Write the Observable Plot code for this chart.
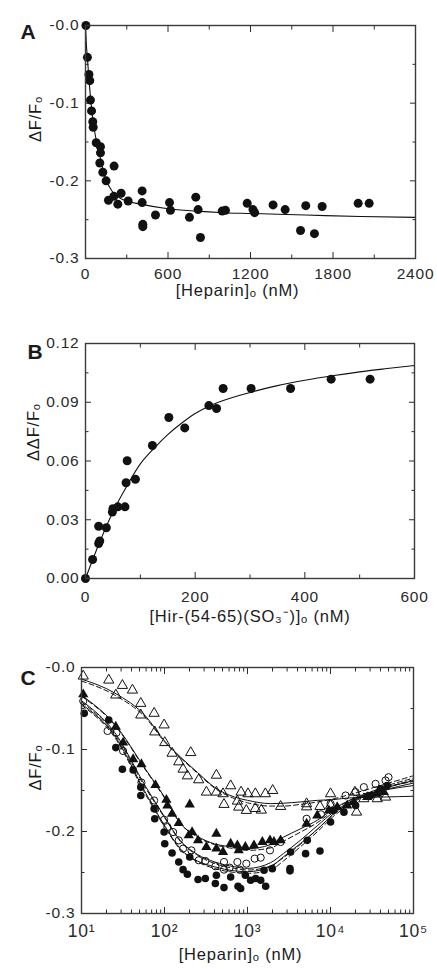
<!DOCTYPE html>
<html>
<head>
<meta charset="utf-8">
<script src="https://cdn.jsdelivr.net/npm/d3@7"></script>
<script src="https://cdn.jsdelivr.net/npm/@observablehq/plot@0.6"></script>
<style>
  html, body { margin: 0; padding: 0; background: #fff; overflow: hidden; }
  #chart { width: 437px; }
  #chart svg { display: block; }
  #chart text { letter-spacing: 0.8px; }
</style>
</head>
<body>
<div id="chart"></div>
<script>
// ---------- Panel A ----------
const aHeparin = [3,14,25,31,36,44,53,56,78,109,109,104,126,150,208,167,206,235,259,310,412,412,417,417,509,611,618,756,802,819,836,994,1018,1176,1218,1230,1364,1452,1564,1602,1665,1721,1983,2063];
const aDF = [0,-0.041,-0.063,-0.071,-0.096,-0.110,-0.124,-0.131,-0.151,-0.156,-0.164,-0.177,-0.189,-0.200,-0.181,-0.225,-0.220,-0.230,-0.216,-0.226,-0.213,-0.228,-0.256,-0.259,-0.244,-0.228,-0.238,-0.247,-0.221,-0.237,-0.273,-0.239,-0.238,-0.229,-0.237,-0.241,-0.231,-0.237,-0.264,-0.232,-0.268,-0.233,-0.229,-0.229];
const aFitX = [0,5,15,25,35,45,55,70,90,110,130,150,175,200,250,300,400,600,800,1000,1200,1600,2000,2400];
const aFitY = [0,-0.02,-0.045,-0.068,-0.09,-0.108,-0.123,-0.14,-0.157,-0.172,-0.187,-0.199,-0.208,-0.215,-0.222,-0.226,-0.23,-0.236,-0.239,-0.241,-0.242,-0.244,-0.246,-0.247];
const aXTicks = [0,600,1200,1800,2400];
const aXLabels = ["0","600","1200","1800","2400"];
const aXMinor = [300,900,1500,2100];
const aYTicks = [0,-0.1,-0.2,-0.3];
const aYMinor = [-0.05,-0.15,-0.25];
const aYLabels = ["-0.0","-0.1","-0.2","-0.3"];

// ---------- Panel B ----------
const bHir = [0,13,24,26,24,38,49,50,59,72,74,76,91,122,152,181,225,239,251,302,374,448,519];
const bDDF = [0,0.0097,0.0179,0.0192,0.0267,0.0259,0.0339,0.0356,0.0366,0.0366,0.0489,0.0601,0.0507,0.0679,0.0822,0.0769,0.0883,0.0868,0.097,0.097,0.097,0.1018,0.1018];
const bFitX = [0,25,50,75,100,125,150,175,200,225,250,300,350,400,450,500,550,600];
const bFitY = [0,0.018,0.034,0.047,0.0585,0.0665,0.0735,0.0793,0.0843,0.088,0.0908,0.095,0.0985,0.1012,0.1035,0.1055,0.1072,0.1088];
const bXTicks = [0,200,400,600];
const bXLabels = ["0","200","400","600"];
const bXMinor = [100,300,500];
const bYTicks = [0,0.03,0.06,0.09,0.12];
const bYMinor = [0.015,0.045,0.075,0.105];
const bYLabels = ["0.00","0.03","0.06","0.09","0.12"];

// ---------- Panel C ----------
const cOpenTriX = [10.5,21.3,31.1,41.1,25.9,51.8,51.8,75,98.9,76.3,100.7,123.4,207,148.5,167.4,188.7,258,422,627,422,320,507,521,755,783,836,1013,968,1243,1243,1468,1641,2011,2506,5152,5152,7464,10020,10020,19680,20610,25230,36560,46030];
const cOpenTriY = [-0.0105,-0.0154,-0.0219,-0.0276,-0.0336,-0.0438,-0.058,-0.0559,-0.0701,-0.0786,-0.0916,-0.1046,-0.1038,-0.1151,-0.124,-0.1322,-0.137,-0.1314,-0.1443,-0.152,-0.152,-0.154,-0.167,-0.163,-0.1703,-0.152,-0.154,-0.1743,-0.154,-0.172,-0.174,-0.154,-0.150,-0.1695,-0.1662,-0.170,-0.1695,-0.154,-0.1682,-0.152,-0.1764,-0.1601,-0.1601,-0.1581];
const cFillTriX = [10.5,25.9,31.7,41.9,52.7,77.8,105.4,108.4,123.4,148.5,201.4,195.9,215,253.6,319.6,421.7,421.7,507,627,755,783,942,1197,1510,1866,2084,2506,5152,6934,9572,12050,15920,19140,27670,36560,43950];
const cFillTriY = [-0.0328,-0.0722,-0.0916,-0.1119,-0.118,-0.1435,-0.1614,-0.1682,-0.1784,-0.1897,-0.167,-0.2047,-0.2007,-0.2108,-0.2189,-0.2027,-0.2209,-0.225,-0.2149,-0.2169,-0.223,-0.2189,-0.2169,-0.2128,-0.2108,-0.2128,-0.2108,-0.1905,-0.1804,-0.1743,-0.1703,-0.1682,-0.1642,-0.1581,-0.154,-0.152];
const cOpenCircX = [10.5,20.6,26.4,31.7,52.7,75,77.8,98.9,108.4,126.8,148.5,167.4,210.9,258.3,310.5,410,521,521,609.5,755,805,968,1219,1442,1866,2506,5152,7670,10020,15200,20050,25230,34910,46030,50000];
const cOpenCircY = [-0.0409,-0.0774,-0.0795,-0.1018,-0.1403,-0.1622,-0.1723,-0.1857,-0.1946,-0.2007,-0.2108,-0.2209,-0.223,-0.2351,-0.2359,-0.2424,-0.2372,-0.2465,-0.2441,-0.2372,-0.2465,-0.2392,-0.2331,-0.2319,-0.223,-0.2128,-0.1845,-0.179,-0.1662,-0.1561,-0.152,-0.1459,-0.1419,-0.1378,-0.1338];
const cFillCircX = [10.8,21.3,25.9,31.1,41.9,51.8,51.8,75,76.3,98.9,100.7,123.4,148.5,167.4,188.7,201.4,253.6,310.5,421.7,410,521,626.9,769,827,942,1091,1253,1442,1656,1581,1991,3250,3250,3311,5012,7464,5248,10020,10790,14520,20050,30340,40090,48200];
const cFillCircY = [-0.0559,-0.0641,-0.0977,-0.124,-0.1249,-0.1459,-0.1561,-0.1723,-0.1845,-0.2007,-0.2149,-0.2262,-0.2372,-0.2465,-0.2522,-0.2311,-0.2586,-0.2574,-0.2534,-0.2635,-0.2684,-0.2554,-0.2668,-0.2696,-0.2534,-0.2595,-0.2574,-0.2595,-0.2668,-0.2473,-0.2453,-0.2453,-0.248,-0.225,-0.227,-0.2238,-0.2108,-0.1885,-0.1743,-0.1764,-0.1682,-0.1561,-0.148,-0.1439];

const cFitX = [10,25,60,100,155,250,400,700,1000,1900,2700,4300,7000,11000,17000,43000,100000];
const cFitOpenTri      = [-0.0142,-0.031,-0.06,-0.0896,-0.109,-0.128,-0.146,-0.158,-0.162,-0.166,-0.1655,-0.164,-0.162,-0.161,-0.159,-0.158,-0.157];
const cFitOpenTriDash  = [-0.0165,-0.0335,-0.062,-0.0905,-0.110,-0.129,-0.147,-0.160,-0.165,-0.169,-0.169,-0.167,-0.164,-0.160,-0.155,-0.143,-0.132];
const cFitFillTri      = [-0.034,-0.069,-0.125,-0.158,-0.19,-0.206,-0.215,-0.219,-0.221,-0.216,-0.207,-0.197,-0.186,-0.172,-0.162,-0.150,-0.144];
const cFitFillTriDash  = [-0.035,-0.07,-0.126,-0.159,-0.19,-0.207,-0.216,-0.221,-0.223,-0.22,-0.212,-0.201,-0.189,-0.174,-0.162,-0.147,-0.139];
const cFitOpenCirc     = [-0.0405,-0.079,-0.146,-0.182,-0.211,-0.228,-0.237,-0.243,-0.245,-0.238,-0.227,-0.211,-0.1926,-0.176,-0.164,-0.148,-0.138];
const cFitOpenCircDash = [-0.042,-0.081,-0.148,-0.183,-0.212,-0.229,-0.239,-0.245,-0.247,-0.242,-0.232,-0.216,-0.197,-0.179,-0.165,-0.146,-0.135];
const cFitFillCirc     = [-0.0446,-0.083,-0.154,-0.1926,-0.221,-0.236,-0.243,-0.248,-0.249,-0.243,-0.231,-0.215,-0.197,-0.178,-0.165,-0.150,-0.141];
const cFitFillCircDash = [-0.046,-0.085,-0.156,-0.194,-0.222,-0.237,-0.245,-0.25,-0.251,-0.247,-0.236,-0.219,-0.2,-0.181,-0.167,-0.148,-0.137];
const cXTicks = [10,100,1000,10000,100000];
const cXLabels = ["10¹","10²","10³","10⁴","10⁵"];
const cXMinor = [10,100,1000,10000].flatMap(d => [2,3,4,5,6,7,8,9].map(k => k * d));
const cYTicks = [0,-0.1,-0.2,-0.3];
const cYMinor = [-0.05,-0.15,-0.25];
const cYLabels = ["-0.0","-0.1","-0.2","-0.3"];

// ---------- helpers ----------
const FONT = "'Liberation Sans', Arial, Helvetica, sans-serif";
const INK = "#1a1a1a";
const TICK_FS = 15.5;
const pairs = (xs, ys) => xs.map((x, i) => ({x, y: ys[i]}));
const blank = () => "";
const lookup = (ticks, labs, log) => d => {
  let best = 0, bd = Infinity;
  ticks.forEach((t, i) => {
    const dist = log ? Math.abs(Math.log10(t) - Math.log10(d)) : Math.abs(t - d);
    if (dist < bd) { bd = dist; best = i; }
  });
  return labs[best];
};

function boxAxes({xTicks, xMinor, yTicks, yMinor, xLabels, yLabels, xPad, yPad, xLog, xFs = TICK_FS}) {
  const common = {color: "#2a2a2a", label: null, strokeWidth: 1, fontSize: TICK_FS};
  return [
    Plot.axisX({anchor: "bottom", ticks: xTicks, tickSize: -6, tickPadding: xPad, tickFormat: lookup(xTicks, xLabels, xLog), ...common, fontSize: xFs}),
    Plot.axisX({anchor: "top", ticks: xTicks, tickSize: -6, tickFormat: blank, ...common}),
    Plot.axisX({anchor: "bottom", ticks: xMinor, tickSize: -3.5, tickFormat: blank, ...common}),
    Plot.axisX({anchor: "top", ticks: xMinor, tickSize: -3.5, tickFormat: blank, ...common}),
    Plot.axisY({anchor: "left", ticks: yTicks, tickSize: -6, tickPadding: yPad, tickFormat: lookup(yTicks, yLabels, false), ...common}),
    Plot.axisY({anchor: "right", ticks: yTicks, tickSize: -6, tickFormat: blank, ...common}),
    Plot.axisY({anchor: "left", ticks: yMinor, tickSize: -3.5, tickFormat: blank, ...common}),
    Plot.axisY({anchor: "right", ticks: yMinor, tickSize: -3.5, tickFormat: blank, ...common})
  ];
}

function labels({letter, letterDx, letterDy, xLabel, xDx, xDy, yLabel, yDx}) {
  return [
    Plot.text([letter], {text: d => d, frameAnchor: "top-left", dx: letterDx, dy: letterDy, fontSize: 21, fontWeight: "bold", fill: INK}),
    Plot.text([xLabel], {text: d => d, frameAnchor: "bottom", dx: xDx, dy: xDy, fontSize: 16.5, fill: INK}),
    Plot.text([yLabel], {text: d => d, frameAnchor: "left", dx: yDx, rotate: -90, fontSize: 16.5, fill: INK})
  ];
}

const style = {fontFamily: FONT, fontSize: TICK_FS + "px", color: INK, background: "white", overflow: "visible"};

// ---------- Panel A ----------
const chartA = Plot.plot({
  width: 437, height: 310,
  marginTop: 25, marginBottom: 52, marginLeft: 85, marginRight: 22,
  style,
  x: {type: "linear", domain: [0, 2400]},
  y: {type: "linear", domain: [-0.3, 0]},
  marks: [
    ...boxAxes({xTicks: aXTicks, xMinor: aXMinor, yTicks: aYTicks, yMinor: aYMinor, xLabels: aXLabels, yLabels: aYLabels, xPad: 15, yPad: 12}),
    Plot.line(pairs(aFitX, aFitY), {x: "x", y: "y", stroke: "#111", strokeWidth: 1.1, curve: "monotone-x"}),
    Plot.dot(pairs(aHeparin, aDF), {x: "x", y: "y", r: 4.5, fill: "#111"}),
    Plot.frame({stroke: "#3a3a3a", strokeWidth: 1.4}),
    ...labels({letter: "A", letterDx: -65, letterDy: -1, xLabel: "[Heparin]ₒ (nM)", xDx: -13, xDy: 37, yLabel: "ΔF/Fₒ", yDx: -50})
  ]
});

// ---------- Panel B ----------
const chartB = Plot.plot({
  width: 437, height: 325,
  marginTop: 33, marginBottom: 57, marginLeft: 85, marginRight: 23,
  style,
  x: {type: "linear", domain: [0, 600]},
  y: {type: "linear", domain: [0, 0.12]},
  marks: [
    ...boxAxes({xTicks: bXTicks, xMinor: bXMinor, yTicks: bYTicks, yMinor: bYMinor, xLabels: bXLabels, yLabels: bYLabels, xPad: 18, yPad: 12}),
    Plot.line(pairs(bFitX, bFitY), {x: "x", y: "y", stroke: "#111", strokeWidth: 1.1, curve: "monotone-x"}),
    Plot.dot(pairs(bHir, bDDF), {x: "x", y: "y", r: 4.5, fill: "#111"}),
    Plot.frame({stroke: "#3a3a3a", strokeWidth: 1.4}),
    ...labels({letter: "B", letterDx: -58, letterDy: 1, xLabel: "[Hir-(54-65)(SO₃⁻)]ₒ (nM)", xDx: 0, xDy: 43, yLabel: "ΔΔF/Fₒ", yDx: -52})
  ]
});

// ---------- Panel C ----------
const fit = (ys, dash) => Plot.line(pairs(cFitX, ys), {x: "x", y: "y", stroke: "#111", strokeWidth: 1, curve: "monotone-x", strokeDasharray: dash ? "5,3" : null});
const chartC = Plot.plot({
  width: 437, height: 334,
  marginTop: 32, marginBottom: 56, marginLeft: 81, marginRight: 24,
  style,
  x: {type: "log", domain: [10, 100000]},
  y: {type: "linear", domain: [-0.3, 0]},
  marks: [
    ...boxAxes({xTicks: cXTicks, xMinor: cXMinor, yTicks: cYTicks, yMinor: cYMinor, xLabels: cXLabels, yLabels: cYLabels, xPad: 17, yPad: 12, xLog: true, xFs: 17.5}),
    fit(cFitOpenTri, false), fit(cFitOpenTriDash, true),
    fit(cFitFillTri, false), fit(cFitFillTriDash, true),
    fit(cFitOpenCirc, false), fit(cFitOpenCircDash, true),
    fit(cFitFillCirc, false), fit(cFitFillCircDash, true),
    Plot.dot(pairs(cOpenTriX, cOpenTriY), {x: "x", y: "y", symbol: "triangle", r: 3.8, fill: "none", stroke: "#111", strokeWidth: 1}),
    Plot.dot(pairs(cFillTriX, cFillTriY), {x: "x", y: "y", symbol: "triangle", r: 3.8, fill: "#111"}),
    Plot.dot(pairs(cOpenCircX, cOpenCircY), {x: "x", y: "y", r: 3.6, fill: "none", stroke: "#111", strokeWidth: 1}),
    Plot.dot(pairs(cFillCircX, cFillCircY), {x: "x", y: "y", r: 3.8, fill: "#111"}),
    Plot.frame({stroke: "#3a3a3a", strokeWidth: 1.4}),
    ...labels({letter: "C", letterDx: -61, letterDy: 3, xLabel: "[Heparin]ₒ (nM)", xDx: -7, xDy: 46, yLabel: "ΔF/Fₒ", yDx: -46})
  ]
});

const root = document.getElementById("chart");
root.append(chartA, chartB, chartC);
</script>
</body>
</html>
